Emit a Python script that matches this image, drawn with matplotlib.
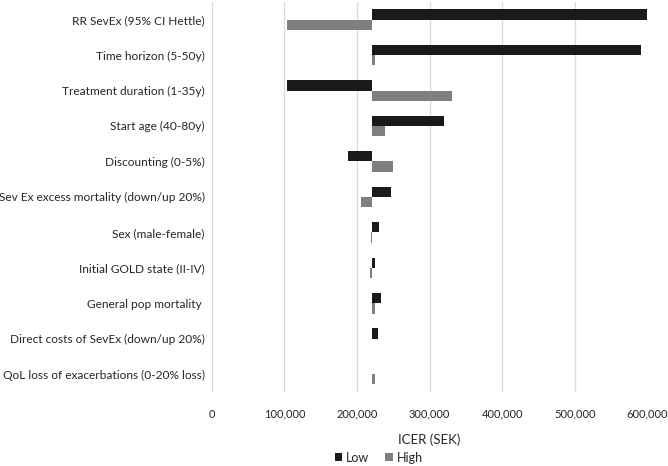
import numpy as np
import matplotlib.pyplot as plt
from matplotlib.ticker import FuncFormatter

# tornado chart: ICER one-way sensitivity, base case ~221,000 SEK
categories = ["RR SevEx (95% CI Hettle)", "Time horizon (5-50y)", "Treatment duration (1-35y)",
              "Start age (40-80y)", "Discounting (0-5%)", "Sev Ex excess mortality (down/up 20%)",
              "Sex (male-female)", "Initial GOLD state (II-IV)", "General pop mortality ",
              "Direct costs of SevEx (down/up 20%)", "QoL loss of exacerbations (0-20% loss)"]
base = 221000
low = [600000, 592000, 103000, 320000, 188000, 247000, 230000, 225000, 233000, 229000, 221000]
high = [103000, 225000, 331000, 238000, 249000, 205000, 220000, 218000, 225000, 221000, 225500]

plt.rcParams['font.family'] = ['Lato', 'DejaVu Sans']
txt = '#262626'

fig = plt.figure(figsize=(6.68, 4.66), dpi=100)
ax = fig.add_axes([0.317, 0.159, 0.652, 0.837])

y = np.arange(len(categories))
h = 0.29
low_w = np.array(low) - base
high_w = np.array(high) - base
ax.barh(y - h / 2, low_w, h, left=base, color='#1a1a1a', edgecolor='none', label='Low', zorder=3)
ax.barh(y + h / 2, high_w, h, left=base, color='#7f7f7f', edgecolor='none', label='High', zorder=3)

ax.set_xlim(0, 600000)
ax.set_ylim(len(categories) - 0.5, -0.5)
ax.set_xticks(np.arange(0, 600001, 100000))
ax.xaxis.set_major_formatter(FuncFormatter(lambda v, p: f"{int(v):,}"))
ax.set_yticks(y)
ax.set_yticklabels(categories)
ax.grid(axis='x', color='#d9d9d9', linewidth=0.9, zorder=0)
for s in ax.spines.values():
    s.set_visible(False)
ax.tick_params(length=0, colors=txt, labelsize=8.6)
ax.tick_params(axis='x', pad=12, labelsize=8)
ax.tick_params(axis='y', pad=5)
ax.set_xlabel("ICER (SEK)", color=txt, fontsize=9.5, labelpad=10)

fig.legend(loc='center', bbox_to_anchor=(0.567, 0.018), ncol=2, frameon=False, labelcolor=txt,
           fontsize=9, handlelength=0.6, handleheight=0.6, columnspacing=1.3, handletextpad=0.3)

fig.savefig('out.png', dpi=100)
